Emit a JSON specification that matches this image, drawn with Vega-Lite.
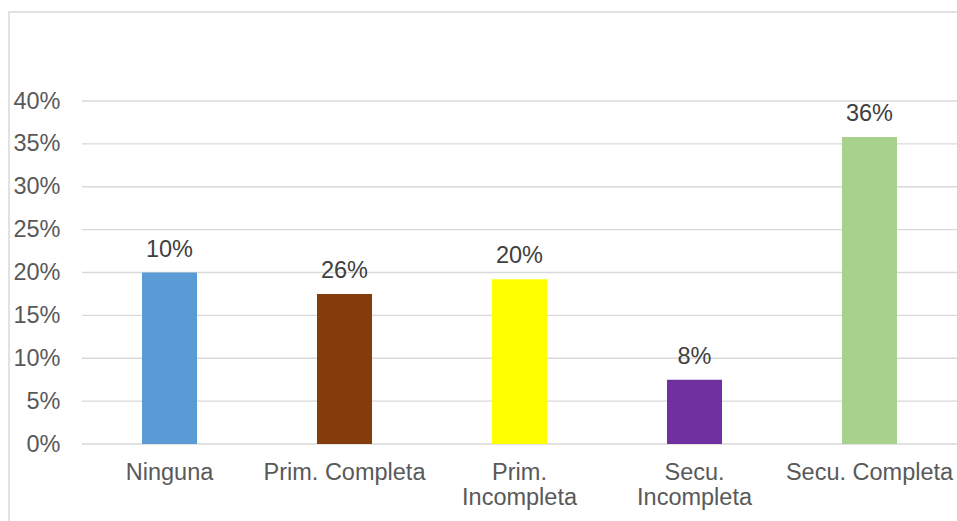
{
  "$schema": "https://vega.github.io/schema/vega-lite/v6.json",
  "width": 950,
  "height": 511,
  "autosize": "none",
  "padding": {"left": 9, "top": 12, "right": 0, "bottom": 0},
  "background": "white",
  "config": {
    "view": {"stroke": "#d9d9d9", "strokeWidth": 1.5},
    "font": "Liberation Sans"
  },
  "datasets": {
    "bars": [
      {"cat": "Ninguna", "value": 0.20, "label": "10%"},
      {"cat": "Prim. Completa", "value": 0.175, "label": "26%"},
      {"cat": "Prim. Incompleta", "value": 0.192, "label": "20%"},
      {"cat": "Secu. Incompleta", "value": 0.075, "label": "8%"},
      {"cat": "Secu. Completa", "value": 0.358, "label": "36%"}
    ],
    "grid": [
      {"v": 0}, {"v": 0.05}, {"v": 0.1}, {"v": 0.15}, {"v": 0.2},
      {"v": 0.25}, {"v": 0.3}, {"v": 0.35}, {"v": 0.4}
    ]
  },
  "layer": [
    {
      "data": {"name": "grid"},
      "mark": {"type": "rule", "color": "#d9d9d9", "strokeWidth": 1.3},
      "encoding": {
        "y": {
          "field": "v",
          "type": "quantitative",
          "scale": {"domain": [0, 0.4], "range": [432, 89], "nice": false, "zero": true},
          "axis": {
            "values": [0, 0.05, 0.1, 0.15, 0.2, 0.25, 0.3, 0.35, 0.4],
            "format": ".0%",
            "offset": -73,
            "domain": false,
            "ticks": false,
            "grid": false,
            "labelPadding": 22,
            "labelFontSize": 23.5,
            "labelColor": "#595959",
            "labelFont": "Liberation Sans",
            "title": null
          }
        },
        "x": {
          "datum": 0,
          "type": "quantitative",
          "scale": {"domain": [0, 1], "range": [73, 950], "nice": false},
          "axis": null
        },
        "x2": {"datum": 1}
      }
    },
    {
      "data": {"name": "bars"},
      "encoding": {
        "x": {
          "field": "cat",
          "type": "nominal",
          "sort": null,
          "scale": {"range": [73, 948], "paddingInner": 0, "paddingOuter": 0},
          "axis": {
            "orient": "bottom",
            "offset": -79,
            "domain": false,
            "ticks": false,
            "grid": false,
            "labelAngle": 0,
            "labelPadding": 16,
            "labelFontSize": 23.5,
            "labelColor": "#595959",
            "labelFont": "Liberation Sans",
            "labelLineHeight": 25,
            "labelExpr": "indexof(['Prim. Incompleta','Secu. Incompleta'], datum.value) >= 0 ? split(datum.value, ' ') : datum.value",
            "title": null
          }
        },
        "y": {"field": "value", "type": "quantitative"}
      },
      "layer": [
        {
          "mark": {"type": "bar", "size": 55},
          "encoding": {
            "color": {
              "field": "cat",
              "type": "nominal",
              "sort": null,
              "scale": {"range": ["#5B9BD5", "#843C0C", "#FFFF00", "#7030A0", "#A9D18E"]},
              "legend": null
            }
          }
        },
        {
          "mark": {"type": "text", "baseline": "alphabetic", "dy": -16, "fontSize": 23.5, "color": "#404040", "font": "Liberation Sans"},
          "encoding": {
            "text": {"field": "label"}
          }
        }
      ]
    }
  ],
  "resolve": {"scale": {"x": "independent"}}
}
